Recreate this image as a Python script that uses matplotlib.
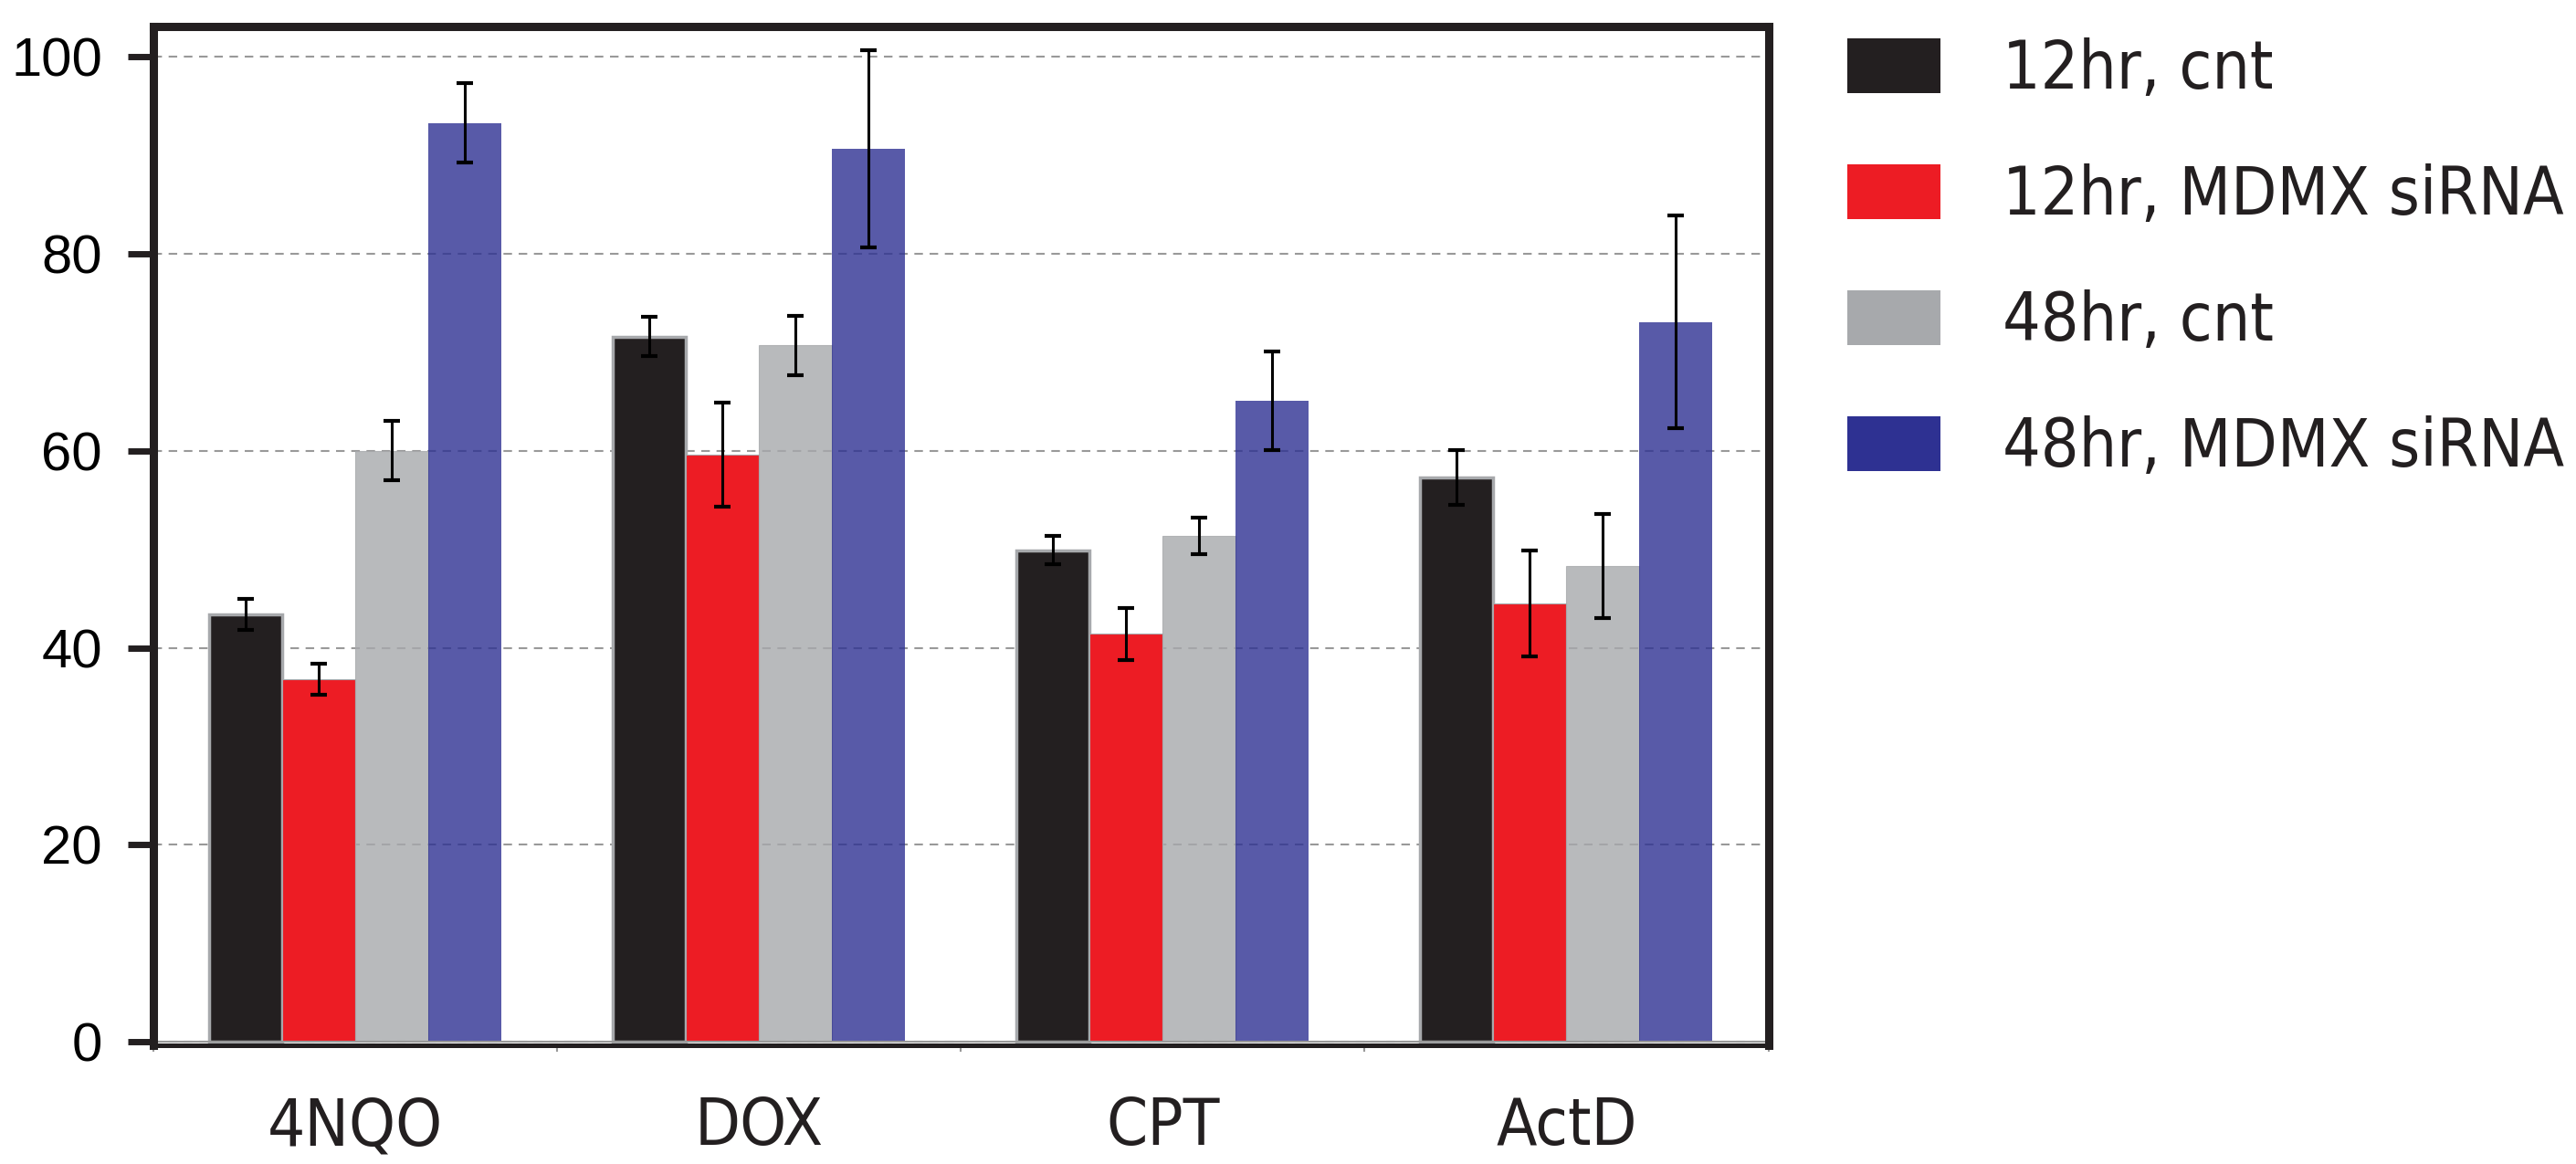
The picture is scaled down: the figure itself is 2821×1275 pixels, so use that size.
import numpy as np
import matplotlib.pyplot as plt
from matplotlib.font_manager import FontProperties
from matplotlib.patches import Patch

drugs = ['4NQO', 'DOX', 'CPT', 'ActD']
labels = ['12hr, cnt', '12hr, MDMX siRNA', '48hr, cnt', '48hr, MDMX siRNA']

cnt_12 = [43.4, 71.6, 49.9, 57.3]
cnt_12_err = [1.6, 2.0, 1.45, 2.8]
sirna_12 = [36.8, 59.6, 41.4, 44.5]
sirna_12_err = [1.6, 5.3, 2.6, 5.4]
cnt_48 = [60.0, 70.7, 51.4, 48.3]
cnt_48_err = [3.0, 3.0, 1.85, 5.25]
sirna_48 = [93.3, 90.7, 65.1, 73.1]
sirna_48_err = [4.0, 10.0, 5.0, 10.8]

yticks = [0, 20, 40, 60, 80, 100]

plt.rcParams['font.family'] = ['Liberation Sans', 'DejaVu Sans']

colors = ['#231f20', '#ed1c24', '#a7a9ac', '#2e3192']
alphas = [1, 1, 0.8, 0.8]
edge_w = [2.5, 0.8, 0.8, 0.0]
values = [cnt_12, sirna_12, cnt_48, sirna_48]
errors = [cnt_12_err, sirna_12_err, cnt_48_err, sirna_48_err]

fig = plt.figure(figsize=(28.21, 12.75), dpi=100)
ax = fig.add_axes([0.05938, 0.10235, 0.62708, 0.8749])

x = np.arange(len(drugs))
w = 0.181
for i in range(4):
    pos = x + (i - 1.5) * w
    ax.bar(pos, values[i], w, color=colors[i], alpha=alphas[i],
           edgecolor='#a7a9ac', linewidth=edge_w[i], zorder=2)
    ax.errorbar(pos, values[i], yerr=errors[i], fmt='none', ecolor='black',
                elinewidth=2.2, capsize=6.5, capthick=3, zorder=3)

ax.set_xlim(-0.5, 3.5)
ax.set_ylim(-0.32, 103.09)
ax.set_yticks(yticks)
ax.set_yticklabels([str(t) for t in yticks], fontsize=43)

# condensed face for the category names and the legend
cond_x = FontProperties(family='DejaVu Sans', stretch='condensed', size=52)
ax.set_xticks(x)
ax.set_xticklabels(drugs, fontproperties=cond_x)
ax.set_xticks(np.arange(-0.5, 4, 1.0), minor=True)
ax.tick_params(axis='x', which='major', length=0, pad=40, colors='#231f20')
ax.tick_params(axis='x', which='minor', length=5, width=1.5, color='#999999')
ax.tick_params(axis='y', length=20, width=5, pad=20, color='#231f20')

ax.grid(axis='y', color='#999999', linestyle=(0, (4.5, 3.5)), linewidth=1.5)
ax.set_axisbelow(True)

for side in ['left', 'top', 'right']:
    ax.spines[side].set_linewidth(6.5)
    ax.spines[side].set_color('#231f20')
ax.spines['bottom'].set_linewidth(3.6)
ax.spines['bottom'].set_color('#231f20')
ax.axhline(0, color='#999999', linewidth=1.5, zorder=2.5)

cond_leg = FontProperties(family='DejaVu Sans', stretch='condensed', size=52.5)
handles = [Patch(facecolor=c, edgecolor='none') for c in colors]
fig.legend(handles, labels, loc='upper left', bbox_to_anchor=(0.7171, 0.968),
           frameon=False, prop=cond_leg, handlelength=1.40, handleheight=0.89,
           handletextpad=0.93, labelspacing=0.92, borderpad=0, borderaxespad=0,
           labelcolor='#231f20')

fig.savefig('out.png', dpi=100)
